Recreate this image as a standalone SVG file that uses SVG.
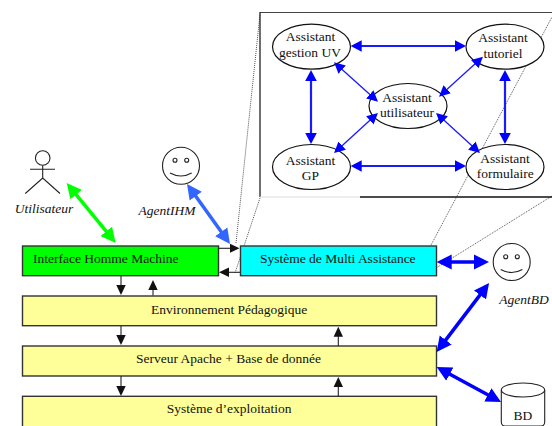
<svg xmlns="http://www.w3.org/2000/svg" width="552" height="426" viewBox="0 0 552 426">
<style>
text{font-family:"Liberation Serif","Times New Roman",serif;font-size:13.5px;fill:#111}
.m{text-anchor:middle}
.it{font-style:italic}
.box{stroke:#333;stroke-width:1.4}
.y{fill:#ffff99}
.el{fill:#fff;stroke:#111;stroke-width:1.2}
.ln{fill:none;stroke:#222;stroke-width:1.1}
.dot{fill:none;stroke:#555;stroke-width:1;stroke-dasharray:1 1}
.k{stroke:#222;stroke-width:1.1;marker-end:url(#hk)}
.g{stroke:#00ff00;stroke-width:3.5;marker-start:url(#hg);marker-end:url(#hg)}
.c{stroke:#3366ff;stroke-width:3.5;marker-start:url(#hc);marker-end:url(#hc)}
.b{stroke:#0000ff;stroke-width:3.5;marker-start:url(#hb);marker-end:url(#hb)}
.i{stroke:#1a1aff;stroke-width:2.2;marker-start:url(#hi);marker-end:url(#hi)}
.d{stroke:#1a1aff;stroke-width:1.3;marker-start:url(#hd);marker-end:url(#hd)}
</style>
<defs>
<marker id="hk" markerUnits="userSpaceOnUse" markerWidth="12" markerHeight="12" refX="1" refY="6" orient="auto-start-reverse"><path d="M0 1.3L10 6L0 10.7z" fill="#111"/></marker>
<marker id="hg" markerUnits="userSpaceOnUse" markerWidth="17" markerHeight="17" refX="3" refY="8.5" orient="auto-start-reverse"><path d="M0 1L15 8.5L0 16z" fill="#00ff00"/></marker>
<marker id="hc" markerUnits="userSpaceOnUse" markerWidth="17" markerHeight="17" refX="3" refY="8.5" orient="auto-start-reverse"><path d="M0 1L15 8.5L0 16z" fill="#3366ff"/></marker>
<marker id="hb" markerUnits="userSpaceOnUse" markerWidth="17" markerHeight="17" refX="3" refY="8.5" orient="auto-start-reverse"><path d="M0 1L15 8.5L0 16z" fill="#0000ff"/></marker>
<marker id="hi" markerUnits="userSpaceOnUse" markerWidth="13" markerHeight="13" refX="1" refY="6.5" orient="auto-start-reverse"><path d="M0 .7L11 6.5L0 12.3z" fill="#0000ff"/></marker>
<marker id="hd" markerUnits="userSpaceOnUse" markerWidth="13" markerHeight="13" refX="2" refY="6.5" orient="auto-start-reverse"><path d="M0 1L11 6.5L0 12z" fill="#0000ff"/></marker>
</defs>

<g id="zoom-guides">
<path class="dot" d="M236 243L260 14M235 273L260 198M430 247L552 17M437.7 267L552 196"/>
<path d="M260 12.5H552" fill="none" stroke="#444" stroke-width="1.2"/>
<path d="M260 12V197" fill="none" stroke="#222" stroke-width="1.3"/>
<path d="M260 197H360" fill="none" stroke="#ddd" stroke-width="1.2"/>
<path d="M360 197H552" fill="none" stroke="#111" stroke-width="1.3"/>
</g>

<g id="assistant-gestion-uv"><ellipse class="el" cx="311.5" cy="46.7" rx="39" ry="22.5"/><text class="m" x="310.5" y="41">Assistant</text><text class="m" x="310" y="57">gestion UV</text></g>
<g id="assistant-tutoriel"><ellipse class="el" cx="505" cy="46.7" rx="39" ry="22.5"/><text class="m" x="503" y="41.7">Assistant</text><text class="m" x="503" y="57.7">tutoriel</text></g>
<g id="assistant-utilisateur"><ellipse class="el" cx="408" cy="106" rx="39" ry="22.5"/><text class="m" x="407" y="101.7">Assistant</text><text class="m" x="407" y="117.3">utilisateur</text></g>
<g id="assistant-gp"><ellipse class="el" cx="311.5" cy="167" rx="39" ry="22.5"/><text class="m" x="310.5" y="165">Assistant</text><text class="m" x="310.5" y="180.3">GP</text></g>
<g id="assistant-formulaire"><ellipse class="el" cx="505" cy="167" rx="39" ry="22.5"/><text class="m" x="505" y="162.7">Assistant</text><text class="m" x="505.3" y="178.3">formulaire</text></g>

<g id="utilisateur"><circle class="ln" cx="42.7" cy="158" r="7.3"/><path class="ln" d="M30 169.3H55M42.7 165.3V178M25.3 193.5L42.7 178L60 193.5"/><text class="m it" x="44" y="212.7">Utilisateur</text></g>
<g id="agent-ihm"><circle class="ln" cx="181" cy="165.7" r="18.5"/><circle class="ln" cx="175" cy="160.3" r="2"/><circle class="ln" cx="186.7" cy="160.3" r="2"/><path class="ln" d="M170 173Q181 179 191.7 173"/><text class="m it" x="167" y="215">AgentIHM</text></g>
<g id="agent-bd"><circle class="ln" cx="511.7" cy="262" r="18.5"/><circle class="ln" cx="505.7" cy="256.7" r="2"/><circle class="ln" cx="517.3" cy="256.7" r="2"/><path class="ln" d="M500.7 269.5Q511.7 275.5 522.4 269.5"/><text class="m it" x="524" y="304">AgentBD</text></g>
<g id="bd"><path class="ln" d="M501.3 390V422Q501.3 426 505 426H541Q544.7 426 544.7 422V390"/><ellipse class="ln" cx="523" cy="390" rx="21.7" ry="7"/><text class="m" x="523" y="420">BD</text></g>

<g id="interface-homme-machine"><rect class="box" x="22.5" y="246" width="196" height="29.7" fill="#00ff00"/><text x="33" y="263.3">Interface Homme Machine</text></g>
<g id="systeme-multi-assistance"><rect class="box" x="240.5" y="246" width="196" height="29.7" fill="#00ffff"/><text x="260" y="263.3">Système de Multi Assistance</text></g>
<g id="environnement-pedagogique"><rect class="box y" x="22.5" y="296" width="414" height="29.7"/><text x="151" y="313.7">Environnement Pédagogique</text></g>
<g id="serveur-apache"><rect class="box y" x="22.5" y="346" width="414" height="30"/><text x="136" y="363.3">Serveur Apache + Base de donnée</text></g>
<g id="systeme-exploitation"><rect class="box y" x="22.5" y="396.3" width="414" height="34"/><text x="166.7" y="413.3">Système d’exploitation</text></g>

<g id="connectors">
<line class="k" x1="218.5" y1="248.3" x2="230.5" y2="248.3"/>
<line class="k" x1="240" y1="272.3" x2="228" y2="272.3"/>
<line class="k" x1="121" y1="276" x2="121" y2="286"/>
<line class="k" x1="153" y1="295.5" x2="153" y2="289"/>
<line class="k" x1="121" y1="326" x2="121" y2="336"/>
<line class="k" x1="121" y1="376" x2="121" y2="387"/>
<line class="k" x1="338.3" y1="346" x2="338.3" y2="335.7"/>
<line class="k" x1="338.3" y1="396" x2="338.3" y2="386"/>
<line class="g" x1="74.3" y1="192.3" x2="108.1" y2="233.7"/>
<line class="c" x1="194" y1="193.8" x2="223" y2="234.2"/>
<line class="b" x1="448.7" y1="262" x2="477" y2="262"/>
<line class="b" x1="481.8" y1="292.6" x2="443.9" y2="342.4"/>
<line class="b" x1="447.2" y1="372.7" x2="490.5" y2="396.3"/>
<line class="i" x1="360.7" y1="46" x2="456" y2="46"/>
<line class="i" x1="360.7" y1="166" x2="456" y2="166"/>
<line class="i" x1="311" y1="80" x2="311" y2="134"/>
<line class="i" x1="505" y1="80" x2="505" y2="134"/>
<line class="d" x1="340.7" y1="68.3" x2="371.3" y2="95.7"/>
<line class="d" x1="476.3" y1="62.8" x2="445.7" y2="90.6"/>
<line class="d" x1="371.3" y1="119.1" x2="340.7" y2="146.9"/>
<line class="d" x1="442.7" y1="119.1" x2="473.3" y2="146.9"/>
</g>
</svg>
